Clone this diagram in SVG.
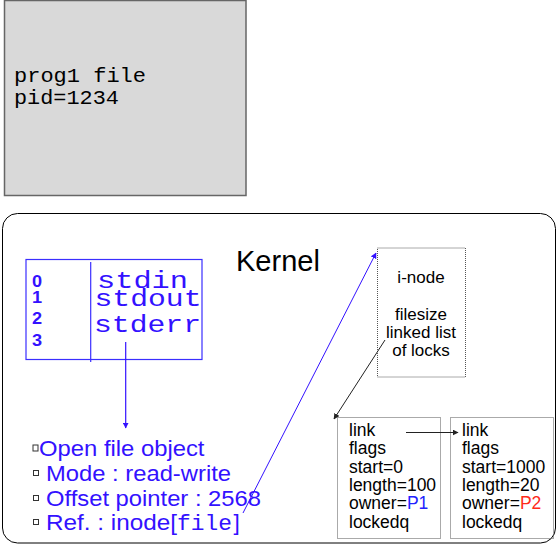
<svg xmlns="http://www.w3.org/2000/svg" width="557" height="544" viewBox="0 0 557 544">
<style>
.sans{font-family:"Liberation Sans",Arial,sans-serif}
.mono{font-family:"Liberation Mono","Courier New",monospace}
.blue{fill:#3311ff}
.blk{fill:#000}
.dot{fill:none;stroke:#555;stroke-width:1;stroke-dasharray:1,1}
.bul{fill:#fff;stroke:#333;stroke-width:1}
</style>
<defs>
<marker id="ab" viewBox="0 0 10 10" refX="9" refY="5" markerWidth="6" markerHeight="6" orient="auto" markerUnits="userSpaceOnUse"><path d="M0,0 L10,5 L0,10 z" fill="#3311ff"/></marker>
<marker id="ak" viewBox="0 0 10 10" refX="9" refY="5" markerWidth="6" markerHeight="6" orient="auto" markerUnits="userSpaceOnUse"><path d="M0,0 L10,5 L0,10 z" fill="#222"/></marker>
</defs>
<rect width="557" height="544" fill="#fff"/>
<g id="process">
<rect x="4.5" y="0.5" width="241.5" height="195" fill="#d9d9d9" stroke="#666" stroke-width="1.5"/>
<text class="mono" x="14" y="82" font-size="21" textLength="132" lengthAdjust="spacingAndGlyphs" fill="#000">prog1 file</text>
<text class="mono" x="14" y="104" font-size="21" textLength="105" lengthAdjust="spacingAndGlyphs" fill="#000">pid=1234</text>
</g>
<g id="kernel">
<rect x="2.5" y="213.5" width="553" height="329.5" rx="15" ry="15" fill="#fff" stroke="#000" stroke-width="1"/>
<text class="sans" x="236" y="271" font-size="29" fill="#000">Kernel</text>
</g>
<g id="fdtable">
<rect x="26" y="259.5" width="176" height="100" fill="none" stroke="#3a2eff" stroke-width="1.2"/>
<line x1="90.7" y1="262" x2="90.7" y2="362" stroke="#3a2eff" stroke-width="1.2"/>
<g class="sans blue" font-size="16.5" font-weight="bold">
<text transform="translate(32,286.5) scale(1.1,1)">0</text>
<text transform="translate(32,302.5) scale(1.1,1)">1</text>
<text transform="translate(32,323.5) scale(1.1,1)">2</text>
<text transform="translate(32,346) scale(1.1,1)">3</text>
</g>
<g class="mono blue" font-size="23">
<text x="97" y="287.5" textLength="91" lengthAdjust="spacingAndGlyphs">stdin</text>
<text x="94.5" y="306" textLength="107" lengthAdjust="spacingAndGlyphs">stdout</text>
<text x="94" y="332" textLength="107" lengthAdjust="spacingAndGlyphs">stderr</text>
</g>
</g>
<g id="fileobject">
<rect class="bul" x="33" y="445" width="5" height="6"/>
<rect class="bul" x="33.5" y="470.5" width="5" height="5"/>
<rect class="bul" x="33.5" y="495.5" width="5" height="5"/>
<rect class="bul" x="33.5" y="519.5" width="5" height="5"/>
<g class="sans blue" font-size="22.5">
<text x="39" y="456" textLength="165.5" lengthAdjust="spacingAndGlyphs">Open file object</text>
<text x="46" y="481" textLength="185" lengthAdjust="spacingAndGlyphs">Mode : read-write</text>
<text x="46" y="506" textLength="215" lengthAdjust="spacingAndGlyphs">Offset pointer : 2568</text>
<text x="46" y="530"><tspan textLength="131" lengthAdjust="spacingAndGlyphs">Ref. : inode[</tspan><tspan class="mono" x="177" font-size="22" textLength="55" lengthAdjust="spacingAndGlyphs">file</tspan><tspan x="233.5">]</tspan></text>
</g>
</g>
<g id="inode">
<rect class="dot" x="377.5" y="248" width="88" height="129"/>
<g class="sans blk" font-size="17" text-anchor="middle">
<text x="421" y="283">i-node</text>
<text x="421" y="319.5">filesize</text>
<text x="421" y="338">linked list</text>
<text x="421" y="356">of locks</text>
</g>
</g>
<g id="lock1">
<rect class="dot" x="337.5" y="417.5" width="103" height="121"/>
<g class="sans blk" font-size="17.5">
<text x="349" y="436">link</text>
<text x="349" y="454">flags</text>
<text x="349" y="472.5">start=0</text>
<text x="349" y="491">length=100</text>
<text x="349" y="509">owner=<tspan fill="#2222ff">P1</tspan></text>
<text x="349" y="527.5">lockedq</text>
</g>
</g>
<g id="lock2">
<rect class="dot" x="450.5" y="417.5" width="103" height="121"/>
<g class="sans blk" font-size="17.5">
<text x="462" y="436">link</text>
<text x="462" y="454">flags</text>
<text x="462" y="472.5">start=1000</text>
<text x="462" y="491">length=20</text>
<text x="462" y="509">owner=<tspan fill="#ff2a1a">P2</tspan></text>
<text x="462" y="527.5">lockedq</text>
</g>
</g>
<g id="connectors">
<line x1="125.7" y1="342" x2="125.7" y2="428" stroke="#3311ff" stroke-width="1.2" marker-end="url(#ab)"/>
<line x1="243" y1="513" x2="376" y2="253" stroke="#3311ff" stroke-width="1" marker-end="url(#ab)"/>
<line x1="385" y1="340" x2="334" y2="419" stroke="#222" stroke-width="1" marker-end="url(#ak)"/>
<line x1="406" y1="432.5" x2="458" y2="432.5" stroke="#222" stroke-width="1" marker-end="url(#ak)"/>
</g>
</svg>
